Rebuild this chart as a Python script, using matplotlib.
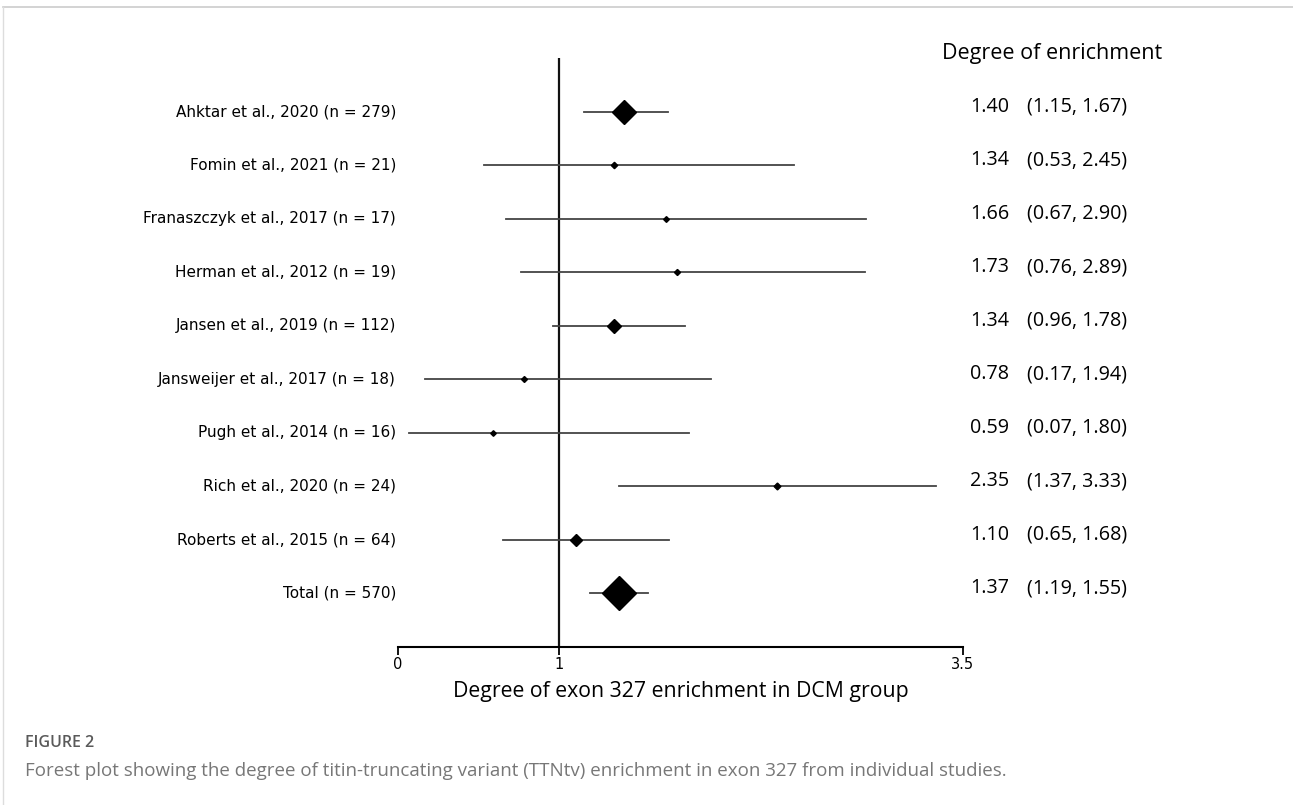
import numpy as np
import matplotlib

matplotlib.use("Agg")
import matplotlib.pyplot as plt
from matplotlib.lines import Line2D

studies = [
    "Ahktar et al., 2020",
    "Fomin et al., 2021",
    "Franaszczyk et al., 2017",
    "Herman et al., 2012",
    "Jansen et al., 2019",
    "Jansweijer et al., 2017",
    "Pugh et al., 2014",
    "Rich et al., 2020",
    "Roberts et al., 2015",
    "Total",
]
n_patients = [279, 21, 17, 19, 112, 18, 16, 24, 64, 570]
estimate = [1.40, 1.34, 1.66, 1.73, 1.34, 0.78, 0.59, 2.35, 1.10, 1.37]
ci_low = [1.15, 0.53, 0.67, 0.76, 0.96, 0.17, 0.07, 1.37, 0.65, 1.19]
ci_high = [1.67, 2.45, 2.90, 2.89, 1.78, 1.94, 1.80, 3.33, 1.68, 1.55]
xticks = [0, 1, 3.5]

W, H = 1293, 805
fig = plt.figure(figsize=(W / 100, H / 100), dpi=100)

# page frame lines (top and left)
fig.add_artist(Line2D([3 / W, 1], [1 - 7 / H, 1 - 7 / H], color="#cccccc", lw=1.2))
fig.add_artist(Line2D([3 / W, 3 / W], [0, 1 - 7 / H], color="#dddddd", lw=1.0))

x0, x1 = 398, 963
ytop, ybot = 58, 647
ax = fig.add_axes([x0 / W, 1 - ybot / H, (x1 - x0) / W, (ybot - ytop) / H])
ax.set_xlim(0, 3.5)
ax.set_ylim(0, 11)

rows = np.arange(len(studies), 0, -1)
for y, est, lo, hi, n in zip(rows, estimate, ci_low, ci_high, n_patients):
    ax.plot([lo, hi], [y, y], color="#444444", lw=1.3, zorder=2)
    ax.plot(est, y, marker="D", color="black", ms=0.71 * np.sqrt(n), zorder=3)

ax.axvline(1, color="#111111", lw=1.6, zorder=1)

for s in ["top", "right", "left"]:
    ax.spines[s].set_visible(False)
ax.spines["bottom"].set_linewidth(1.5)
ax.set_yticks([])
ax.set_xticks(xticks)
ax.set_xticklabels(["0", "1", "3.5"], fontsize=10.5, family="DejaVu Sans")
ax.tick_params(axis="x", direction="out", length=6, width=1.3, pad=1.5)
ax.set_xlabel("Degree of exon 327 enrichment in DCM group",
              fontsize=15.3, family="Open Sans", labelpad=6)

# left labels and right estimates
for y, name, n, est, lo, hi in zip(rows, studies, n_patients, estimate, ci_low, ci_high):
    yf = 1 - (ybot - (ybot - ytop) * y / 11) / H
    fig.text(396 / W, yf, f"{name} (n = {n})", ha="right", va="center",
             fontsize=11, family="DejaVu Sans")
    fig.text(970 / W, yf + 5 / H, f"{est:.2f}", ha="left", va="center",
             fontsize=14.2, family="Open Sans")
    fig.text(1027 / W, yf + 5 / H, f"({lo:.2f}, {hi:.2f})", ha="left", va="center",
             fontsize=14.2, family="Open Sans")

fig.text(1052 / W, 1 - 53 / H, "Degree of enrichment", ha="center", va="center",
         fontsize=15.5, family="Open Sans")

fig.text(25 / W, 1 - 743 / H, "FIGURE 2", ha="left", va="center",
         fontsize=11.5, color="#5a5a5a", family="Open Sans", weight="semibold")
fig.text(25 / W, 1 - 771 / H,
         "Forest plot showing the degree of titin-truncating variant (TTNtv) "
         "enrichment in exon 327 from individual studies.",
         ha="left", va="center", fontsize=13.5, color="#777777", family="Open Sans")

fig.savefig("out.png", dpi=100)
